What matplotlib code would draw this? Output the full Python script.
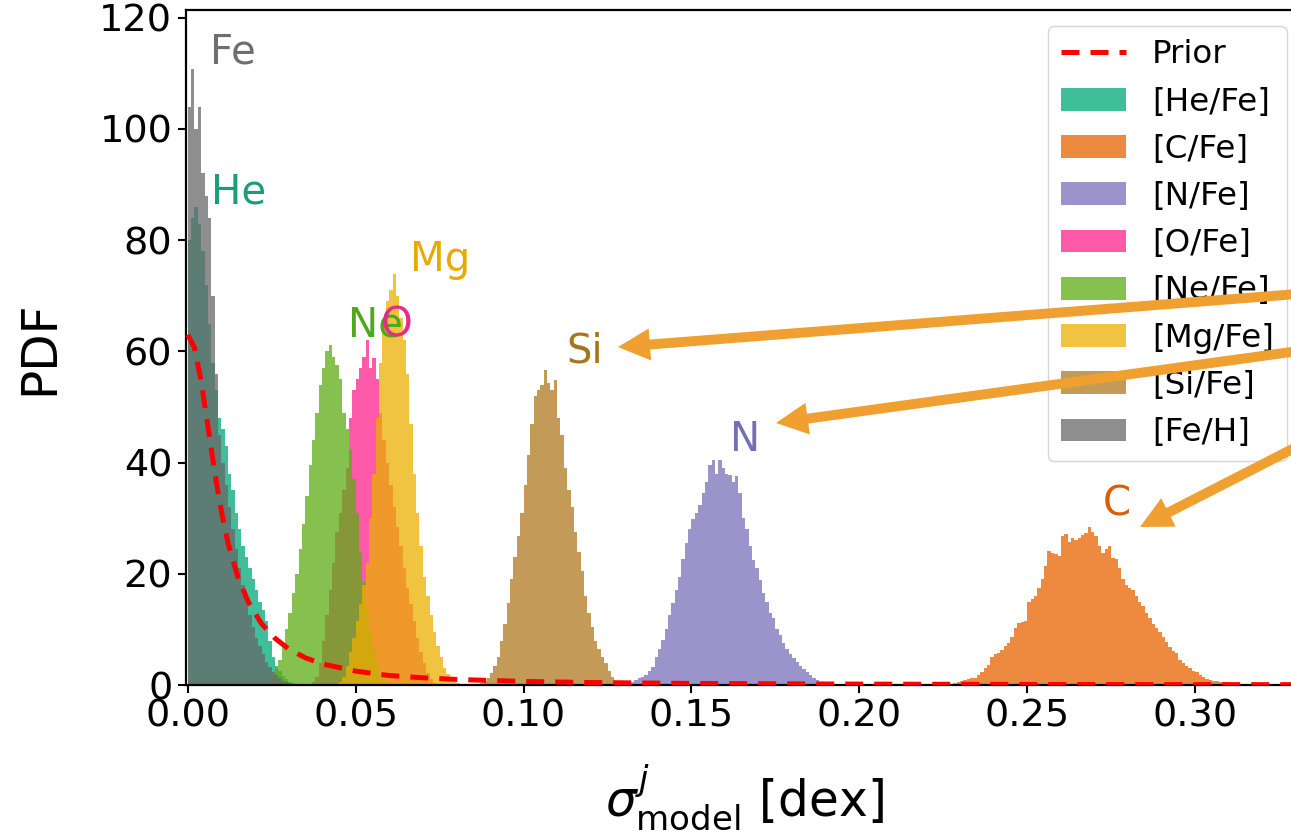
import matplotlib
matplotlib.use('Agg')
import matplotlib.pyplot as plt
from matplotlib.lines import Line2D
from matplotlib.patches import Patch

# bin width of the posterior histograms [dex]
BIN = 0.001

# bin heights (PDF), left edge of first bin in *_start
he_start = 0.000
he_pdf = [80, 84, 86, 83, 78, 72, 65, 58, 53, 48, 46, 43, 38, 35, 31, 28, 25,
          23, 21, 19, 17, 15, 13.5, 11.5, 8, 5, 3.5, 2.5, 1.6, 1.0, 0.6, 0.3]

c_start = 0.227
c_pdf = [0.2, 0.4, 0.5, 0.7, 0.9, 1.1, 1.2, 1.3, 1.8, 2.4, 3.0, 3.6, 5.1, 5.5,
         5.8, 6.3, 7, 7.5, 8.7, 10.3, 11.2, 11.3, 11.5, 15, 15.4, 16, 17.5, 19,
         21.4, 24.1, 23.8, 23.5, 23.2, 26.8, 27.1, 25.7, 26.5, 26, 26.5, 27,
         27.4, 28.4, 27.5, 26.8, 25, 23.8, 24.5, 25, 22.9, 22.7, 21, 19, 18,
         17.5, 17, 16, 15, 14.2, 13, 12.1, 11, 10.3, 9.5, 8.7, 7.8, 6.9, 6.2,
         5.7, 4.5, 3.9, 3.4, 3.0, 2.6, 2.4, 1.8, 1.5, 1.1, 0.9, 0.8, 0.7, 0.6,
         0.6, 0.5, 0.4, 0.3, 0.2]

n_start = 0.132
n_pdf = [0.5, 0.9, 1.2, 1.5, 1.8, 2.6, 3.3, 5, 6.5, 8.1, 10, 12.5, 14.8, 17,
         19.5, 22.6, 25.5, 28, 29.9, 31, 32.3, 34.5, 36.5, 39.5, 40.4, 38,
         40.4, 39, 38, 37.7, 36.5, 37.5, 34.5, 30, 28, 25, 22.5, 21, 18.8, 16.5,
         15, 13, 12, 10, 9, 7.5, 6.5, 5.5, 4.8, 4.2, 3.5, 2.9, 2.4, 1.8, 1.3,
         0.9, 0.6, 0.3]

o_start = 0.037
o_pdf = [0.5, 1.5, 4, 8, 12.5, 17, 22, 27.5, 31, 35, 39, 48, 53, 55, 57, 59,
         62, 57, 58.8, 55, 49, 44, 40, 36, 32, 28.5, 25, 21, 17.5, 14.5, 11.5,
         8.5, 6, 4, 2.2, 1, 0.4]

ne_start = 0.025
ne_pdf = [2, 3, 4.5, 7, 10, 13, 16.5, 20, 24.5, 29, 34, 39.5, 44, 49, 54, 57,
          60, 61.2, 59, 57.5, 55, 49, 46, 42.5, 37, 31, 24, 18.5, 13.5, 9.5,
          6.5, 4, 2.5, 1.5, 0.8, 0.4]

mg_start = 0.045
mg_pdf = [0.5, 1.5, 3.5, 6, 8.5, 11.5, 14.5, 18, 22, 30, 38, 48, 58, 65, 69,
          71, 73.9, 70, 66, 62, 56, 47, 38, 31, 25, 19.5, 16, 12.5, 9.5, 7, 5,
          3, 2, 1.2, 0.6, 0.3]

si_start = 0.087
si_pdf = [0.3, 0.8, 1.2, 2.2, 3.5, 5.1, 8, 11, 14.8, 19, 23, 26.8, 31, 36,
          41.3, 47, 52, 53, 54, 56.7, 54.3, 53, 54.9, 48, 45, 39, 35, 32, 27.5,
          24, 20.5, 16, 13, 10.5, 8, 6.5, 5, 4, 2.5, 1.5, 0.6, 0.2]

fe_start = 0.000
fe_pdf = [104, 110.8, 100, 104, 92, 88, 84, 70, 56, 45, 40, 36, 32, 28, 24.5,
          21, 18, 15, 12.5, 10.5, 8.5, 7, 5.5, 4.2, 3.2, 2.4, 1.8, 1.2, 0.8,
          0.5, 0.3]

# prior curve
prior_x = [0, 0.002, 0.004, 0.006, 0.008, 0.010, 0.012, 0.015, 0.018, 0.022,
           0.026, 0.030, 0.035, 0.040, 0.05, 0.06, 0.07, 0.08, 0.10, 0.12,
           0.15, 0.20, 0.25, 0.30, 0.35]
prior_y = [63, 60.7, 54.6, 46.6, 38.4, 31.3, 25.5, 19.3, 15, 11, 8.4, 6.5,
           4.9, 3.8, 2.5, 1.7, 1.3, 1.0, 0.64, 0.45, 0.28, 0.16, 0.1, 0.07,
           0.05]

labels = ['[He/Fe]', '[C/Fe]', '[N/Fe]', '[O/Fe]', '[Ne/Fe]', '[Mg/Fe]',
          '[Si/Fe]', '[Fe/H]']
starts = [he_start, c_start, n_start, o_start, ne_start, mg_start, si_start,
          fe_start]
pdfs = [he_pdf, c_pdf, n_pdf, o_pdf, ne_pdf, mg_pdf, si_pdf, fe_pdf]
fill_colors = ['#00a878', '#e86300', '#7a70ba', '#ff238e', '#5eac14',
               '#ecaf00', '#b07820', '#686868']

# element names written next to each peak
names = ['Fe', 'He', 'Mg', 'Ne', 'O', 'Si', 'N', 'C']
name_x = [0.0135, 0.0150, 0.0751, 0.0558, 0.0623, 0.1183, 0.1660, 0.2767]
name_y = [113.8, 88.5, 76.4, 64.7, 64.7, 59.9, 44.1, 32.4]
name_colors = ['#6e6e6e', '#1b9e77', '#e6ab02', '#4da81a', '#e7298a',
               '#a6761d', '#7570b3', '#d95f02']

W, H = 1291, 834
fig = plt.figure(figsize=(W / 100, H / 100), dpi=100)
ax = fig.add_axes([185.5 / W, (H - 685) / H, (1303 - 185.5) / W, 675 / H])

alpha = 0.75
for st, pdf, col in zip(starts, pdfs, fill_colors):
    edges = [st + i * BIN for i in range(len(pdf))]
    ax.bar(edges, pdf, width=BIN, align='edge', color=col, alpha=alpha,
           linewidth=0)

ax.plot(prior_x, prior_y, ls=(0, (3.6, 2.2)), color='red', lw=3.6, zorder=4)

for nm, x, y, col in zip(names, name_x, name_y, name_colors):
    ax.text(x, y, nm, color=col, fontsize=29, ha='center', va='center')

ax.set_xlim(-0.00066, 0.3321)
ax.set_ylim(0, 121.4)
ax.set_xticks([0, 0.05, 0.10, 0.15, 0.20, 0.25, 0.30])
ax.set_xticklabels(['0.00', '0.05', '0.10', '0.15', '0.20', '0.25', '0.30'])
ax.set_yticks([0, 20, 40, 60, 80, 100, 120])
ax.tick_params(labelsize=27.5, length=6, width=1.5)
for sp in ax.spines.values():
    sp.set_linewidth(1.6)
ax.set_xlabel(r'$\sigma^j_{\rm model}$ [dex]', fontsize=35, labelpad=20)
ax.set_ylabel('PDF', fontsize=35, labelpad=26)

handles = [Line2D([], [], ls=(0, (3.6, 2.2)), color='red', lw=3.6)]
handles += [Patch(facecolor=c, alpha=alpha, linewidth=0) for c in fill_colors]
leg = ax.legend(handles, ['Prior'] + labels, loc='upper right', fontsize=23.4)
leg.set_zorder(5)

# orange call-out arrows coming in from the right (figure pixels)
arrow_tips = [(618, 347), (776, 423), (1140, 527)]
arrow_tails = [(1400, 286), (1400, 337), (1400, 394)]
for tip, tail in zip(arrow_tips, arrow_tails):
    ax.annotate('', xy=(tip[0], H - tip[1]), xytext=(tail[0], H - tail[1]),
                xycoords='figure pixels', textcoords='figure pixels',
                arrowprops=dict(arrowstyle='simple,head_length=1.0,'
                                'head_width=1.0,tail_width=0.31',
                                mutation_scale=23, color='#f0a030', lw=0,
                                shrinkA=0, shrinkB=0),
                zorder=6)

fig.savefig('out.png', dpi=100)
